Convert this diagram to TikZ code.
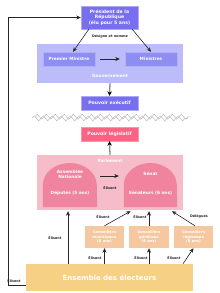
\documentclass[tikz,border=0pt]{standalone}
\usepackage{fontspec}
\setmainfont{DejaVu Sans}
\usetikzlibrary{arrows.meta,decorations.pathmorphing}
\definecolor{presblue}{RGB}{120,110,240}
\definecolor{govbg}{RGB}{188,188,250}
\definecolor{govbox}{RGB}{142,142,242}
\definecolor{legred}{RGB}{250,100,132}
\definecolor{parlbg}{RGB}{246,188,202}
\definecolor{dome}{RGB}{240,132,158}
\definecolor{elecbg}{RGB}{246,208,132}
\definecolor{consbg}{RGB}{246,200,160}
\tikzset{
  bluebox/.style={rectangle,fill=presblue,draw=presblue!60,line width=0.4pt,text=white,font=\fontsize{4.6}{5.4}\selectfont\bfseries,align=center,inner sep=0pt},
  govnode/.style={rectangle,fill=govbox,draw=govbox!70,line width=0.4pt,text=white,font=\fontsize{4.3}{5}\selectfont\bfseries,align=center,inner sep=0pt,minimum width=52pt,minimum height=14pt},
  redbox/.style={rectangle,fill=legred,draw=legred!70,line width=0.4pt,text=white,font=\fontsize{4.6}{5.4}\selectfont\bfseries,align=center,inner sep=0pt,minimum width=57pt,minimum height=14pt},
  consbox/.style={rectangle,fill=consbg,text=white,font=\fontsize{3.7}{4.4}\selectfont\bfseries,align=center,inner sep=0pt,minimum width=39pt,minimum height=22pt},
  lbl/.style={font=\fontsize{3.4}{4}\selectfont\bfseries,text=black!85,inner sep=0pt},
  wlbl/.style={font=\fontsize{4.3}{5}\selectfont\bfseries,text=white,inner sep=0pt,align=center},
  arr/.style={draw=black!85,line width=0.6pt,-{Stealth[length=4.5pt,width=4pt]}},
  garr/.style={draw=black!45,line width=1.3pt,-{Stealth[length=4.5pt,width=4.5pt,color=black]}},
  zz/.style={draw=black!30,line width=0.4pt,decorate,decoration={zigzag,segment length=9pt,amplitude=2.5pt}}
}
\begin{document}
\begin{tikzpicture}[x=1pt,y=-1pt]
\useasboundingbox (0,0) rectangle (220,293);
% Gouvernement background
\node[rectangle,fill=govbg,minimum width=146pt,minimum height=39pt,inner sep=0pt] (gouv) at (110,63.5) {};
\node[wlbl] (gouvlbl) at (110,76) {Gouvernement};
\node[bluebox,minimum width=57pt,minimum height=23pt] (pres) at (109.5,17.5) {Président de la\\République\\(élu pour 5 ans)};
\node[govnode] (pm) at (69,59) {Premier Ministre};
\node[govnode] (min) at (151,59) {Ministres};
\node[bluebox,minimum width=57pt,minimum height=14pt] (exec) at (109.5,103) {Pouvoir exécutif};
\node[lbl] (desig) at (110,37) {Désigne et nomme};
\draw[arr] (pres.south west) ++(8,0) coordinate (p1) -- ([xshift=4pt]pm.north);
\draw[arr] (pres.south east) ++(-6,0) coordinate (p2) -- (min.north);
\draw[arr] ([xshift=5pt]pm.east) -- ([xshift=-5pt]min.west);
\draw[garr] (gouv.south) -- (exec.north);
% zigzags
\coordinate (zl) at (32,117.5);
\coordinate (zr) at (188,117.5);
\draw[zz] ([yshift=-0.8pt]zl) -- ([yshift=-0.8pt]zr);
\draw[zz] ([xshift=3pt,yshift=0.8pt]zl) -- ([xshift=3pt,yshift=0.8pt]zr);
% Parlement
\node[redbox] (leg) at (109.5,134) {Pouvoir législatif};
\node[rectangle,fill=parlbg,minimum width=146pt,minimum height=55pt,inner sep=0pt] (parl) at (110,182.5) {};
\node[wlbl] (parllbl) at (110,161) {Parlement};
\draw[garr] (parl.north) -- (leg.south);
\node[minimum width=54pt,minimum height=44pt,inner sep=0pt] (an) at (70,185) {};
\node[minimum width=53pt,minimum height=44pt,inner sep=0pt] (senat) at (150.5,185) {};
\fill[dome] (an.south west) -- (an.west) arc[start angle=180,end angle=0,x radius=27pt,y radius=22pt] -- (an.south east) -- cycle;
\fill[dome] (senat.south west) -- (senat.west) arc[start angle=180,end angle=0,x radius=26.5pt,y radius=22pt] -- (senat.south east) -- cycle;
\node[wlbl] (antxt) at (70,174) {Assemblée\\Nationale};
\node[wlbl] (deputes) at (70,193) {Députés (5 ans)};
\node[wlbl] (senattxt) at (150.5,174) {Sénat};
\node[wlbl] (senateurs) at (150.5,193) {Sénateurs (6 ans)};
\node[lbl] (el1) at (110,188) {Élisent};
\draw[arr] ([xshift=3pt,yshift=9pt]an.east) -- ([xshift=-5pt,yshift=9pt]senat.west);
% Electeurs
\node[rectangle,fill=elecbg,minimum width=167pt,minimum height=27pt,inner sep=0pt,text=white,font=\fontsize{7}{8}\selectfont\bfseries] (elec) at (109.5,277.5) {Ensemble des électeurs};
\node[consbox] (mun) at (104.5,237) {Conseillers\\municipaux\\(6 ans)};
\node[consbox,minimum width=40pt] (gen) at (149,237) {Conseillers\\généraux\\(6 ans)};
\node[consbox] (reg) at (193.5,237) {Conseillers\\régionaux\\(6 ans)};
\draw[arr] (elec.north -| mun.south) -- (mun.south);
\draw[arr] (elec.north -| gen.south) -- (gen.south);
\draw[arr] ([xshift=-10.5pt]elec.north -| reg.south) -- (reg.south);
\draw[arr] (mun.north) -- ([xshift=-20pt,yshift=-4pt]senat.south);
\draw[arr] (gen.north) -- ([xshift=-1.5pt,yshift=-4pt]senat.south);
\draw[arr] ([xshift=1.5pt]reg.north) -- ([xshift=21.5pt,yshift=-4pt]senat.south);
\draw[arr] (elec.north -| 68,0) -- ([xshift=-2pt,yshift=-4pt]an.south);
\node[lbl] (l1) at (103,216.5) {Élisent};
\node[lbl] (l2) at (140,216.5) {Élisent};
\node[lbl] (l3) at (199,216.5) {Délégués};
\node[lbl] (l4) at (95,258) {Élisent};
\node[lbl] (l5) at (141,258) {Élisent};
\node[lbl] (l6) at (174,257.5) {Élisent};
\node[lbl] (l7) at (55,238) {Élisent};
\node[lbl] (l8) at (14,281) {Élisent};
\coordinate (lb) at (8,285);
\draw[arr] (elec.west |- lb) -- (lb) -- (lb |- pres.west) -- (pres.west);
\end{tikzpicture}
\end{document}
